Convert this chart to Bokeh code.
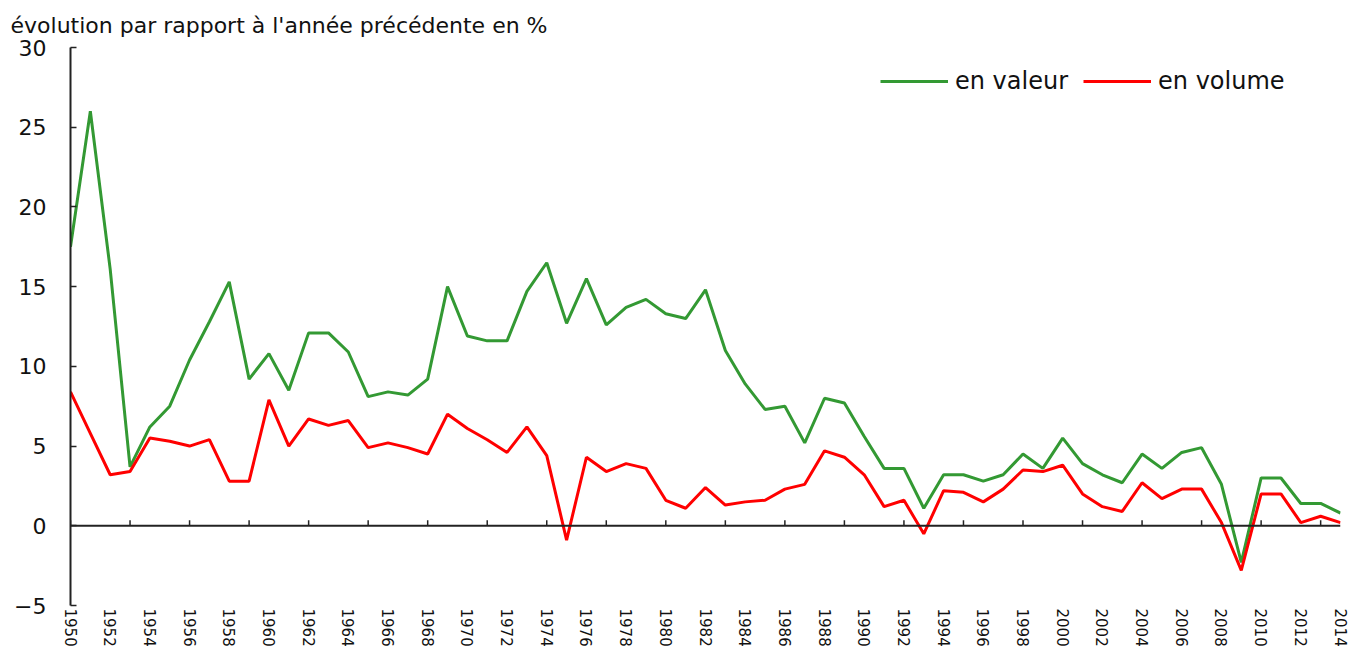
from bokeh.plotting import figure
from bokeh.models import Range1d, FixedTicker, Span, Legend, LegendItem
from bokeh.embed import file_html
from bokeh.resources import INLINE

years = list(range(1950, 2015))
en_valeur = [17.5, 26.0, 16.1, 3.7, 6.2, 7.5, 10.4, 12.8, 15.3, 9.2,
             10.8, 8.5, 12.1, 12.1, 10.9, 8.1, 8.4, 8.2, 9.2, 15.0,
             11.9, 11.6, 11.6, 14.7, 16.5, 12.7, 15.5, 12.6, 13.7, 14.2,
             13.3, 13.0, 14.8, 11.0, 8.9, 7.3, 7.5, 5.2, 8.0, 7.7,
             5.6, 3.6, 3.6, 1.1, 3.2, 3.2, 2.8, 3.2, 4.5, 3.6,
             5.5, 3.9, 3.2, 2.7, 4.5, 3.6, 4.6, 4.9, 2.6, -2.3,
             3.0, 3.0, 1.4, 1.4, 0.8]
en_volume = [8.4, 5.8, 3.2, 3.4, 5.5, 5.3, 5.0, 5.4, 2.8, 2.8,
             7.9, 5.0, 6.7, 6.3, 6.6, 4.9, 5.2, 4.9, 4.5, 7.0,
             6.1, 5.4, 4.6, 6.2, 4.4, -0.9, 4.3, 3.4, 3.9, 3.6,
             1.6, 1.1, 2.4, 1.3, 1.5, 1.6, 2.3, 2.6, 4.7, 4.3,
             3.2, 1.2, 1.6, -0.5, 2.2, 2.1, 1.5, 2.3, 3.5, 3.4,
             3.8, 2.0, 1.2, 0.9, 2.7, 1.7, 2.3, 2.3, 0.2, -2.8,
             2.0, 2.0, 0.2, 0.6, 0.2]
label_years = years[::2]
tick_years = years[::3]
y_ticks = [-5, 0, 5, 10, 15, 20, 25, 30]
title_text = "évolution par rapport à l'année précédente en %"

FONT = "DejaVu Sans"
GREEN = "#339933"
RED = "#ff0000"
AXIS = "#222222"

p = figure(width=1352, height=649, output_backend="svg", toolbar_location=None,
           x_range=Range1d(1950, 2014), y_range=Range1d(-5, 30),
           min_border_left=70, min_border_right=12, min_border_top=44,
           min_border_bottom=42)
p.outline_line_color = None
p.xgrid.visible = False
p.ygrid.visible = False

p.title.text = title_text
p.title.text_font = FONT
p.title.text_font_size = "22px"
p.title.text_font_style = "normal"
p.title.text_color = "#111111"
p.title.align = "left"
p.title.offset = -60
p.title.standoff = 20

# y axis
p.yaxis.ticker = FixedTicker(ticks=y_ticks)
p.yaxis.major_tick_in = 6
p.yaxis.major_tick_out = 0
p.yaxis.minor_tick_line_color = None
p.yaxis.axis_line_color = AXIS
p.yaxis.axis_line_width = 2
p.yaxis.major_tick_line_color = AXIS
p.yaxis.major_tick_line_width = 1.5
p.yaxis.major_label_standoff = 24
p.yaxis.major_label_text_font = FONT
p.yaxis.major_label_text_font_size = "22px"
p.yaxis.major_label_text_color = "#111111"

# x axis labels (bottom)
p.xaxis.ticker = FixedTicker(ticks=label_years)
p.xaxis.axis_line_color = None
p.xaxis.major_tick_line_color = None
p.xaxis.minor_tick_line_color = None
p.xaxis.major_tick_in = 0
p.xaxis.major_tick_out = 0
p.xaxis.major_label_orientation = "vertical"
p.xaxis.major_label_standoff = 3
p.xaxis.major_label_text_font = FONT
p.xaxis.major_label_text_font_size = "15px"
p.xaxis.major_label_text_color = "#111111"

# zero line with ticks every 3 years
p.add_layout(Span(location=0, dimension="width", line_color=AXIS, line_width=2))
p.segment(x0=tick_years, y0=[0] * len(tick_years), x1=tick_years,
          y1=[0.35] * len(tick_years), line_color=AXIS, line_width=1.5)

r1 = p.line(years, en_valeur, line_color=GREEN, line_width=3)
r2 = p.line(years, en_volume, line_color=RED, line_width=3)

legend = Legend(items=[LegendItem(label="en valeur", renderers=[r1]),
                       LegendItem(label="en volume", renderers=[r2])],
                location=(810, 510), orientation="horizontal",
                glyph_width=68, glyph_height=26, label_height=26,
                label_standoff=7, spacing=15, padding=0, margin=0,
                border_line_color=None, background_fill_alpha=0,
                label_text_font=FONT, label_text_font_size="24px",
                label_text_color="#111111")
p.add_layout(legend)

open("out.html", "w").write(file_html(p, INLINE))
